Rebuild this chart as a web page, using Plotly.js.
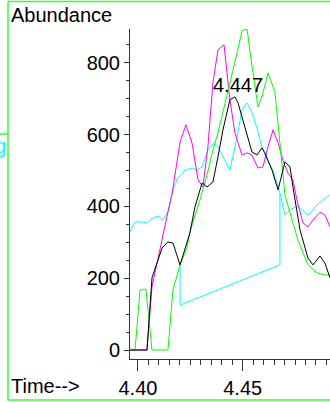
<!DOCTYPE html>
<html>
<head>
<meta charset="utf-8">
<script src="https://cdn.plot.ly/plotly-3.0.1.min.js"></script>
<style>html,body{margin:0;padding:0;background:#fff;}#chart{width:330px;height:402px;}</style>
</head>
<body>
<div id="chart"></div>
<script>
// Black trace
const blackTime = [4.3962,4.4043,4.4067,4.4091,4.4115,4.4143,4.4167,4.4201,4.4224,4.4248,4.4272,4.4282,4.4306,4.4330,4.4358,4.4382,4.4406,4.4439,4.4463,4.4478,4.4511,4.4544,4.4568,4.4592,4.4606,4.4640,4.4669,4.4702,4.4726,4.4740,4.4774,4.4812,4.4836,4.4869,4.4893,4.4917];
const blackAbund = [0,0,201,245,284,301,298,237,279,326,398,418,465,454,468,538,613,697,705,688,621,552,543,563,549,501,446,524,510,454,334,256,237,262,242,201];
// Green trace
const greenTime = [4.3962,4.3986,4.4010,4.4038,4.4067,4.4143,4.4167,4.4201,4.4234,4.4248,4.4296,4.4330,4.4358,4.4382,4.4406,4.4430,4.4463,4.4497,4.4521,4.4544,4.4573,4.4592,4.4621,4.4654,4.4678,4.4702,4.4726,4.4764,4.4812,4.4855,4.4893,4.4917];
const greenAbund = [0,0,167,170,0,0,167,237,284,329,418,488,557,605,663,719,802,889,894,794,677,705,772,719,585,432,382,306,237,215,209,209];
// Magenta trace
const magentaTime = [4.3962,4.4043,4.4067,4.4091,4.4115,4.4143,4.4162,4.4182,4.4201,4.4229,4.4258,4.4287,4.4310,4.4334,4.4358,4.4382,4.4411,4.4439,4.4463,4.4497,4.4521,4.4544,4.4573,4.4597,4.4621,4.4645,4.4669,4.4692,4.4716,4.4740,4.4759,4.4788,4.4812,4.4836,4.4869,4.4893,4.4917];
const magentaAbund = [0,0,176,245,306,384,432,501,579,627,577,474,454,566,744,836,850,697,605,543,549,543,507,510,566,613,577,529,493,474,418,354,343,362,384,376,343];
// Cyan trace
const cyanTime = [4.3962,4.3986,4.4010,4.4043,4.4072,4.4096,4.4119,4.4143,4.4167,4.4191,4.4224,4.4258,4.4282,4.4306,4.4334,4.4363,4.4382,4.4415,4.4439,4.4473,4.4497,4.4521,4.4544,4.4568,4.4592,4.4616,4.4645,4.4669,4.4678,4.4702,4.4726,4.4759,4.4812,4.4855,4.4883,4.4917];
const cyanAbund = [329,357,357,354,368,373,362,384,446,479,501,507,501,510,557,577,566,529,501,593,669,688,663,619,566,529,501,454,437,376,390,401,376,404,418,432];
// Cyan integration baseline
const baseTime = [4.4201,4.4201,4.4678,4.4678];
const baseAbund = [237,125,237,437];
// Peak label
const peakLabel = "4.447";
const peakLabelTime = 4.4478;
const peakLabelAbund = 738;
// Ticks
const yTickVals = [0,200,400,600,800];
const xTickVals = [4.40,4.45];
const xTickText = ["4.40","4.45"];

const FONT = "Liberation Sans, Arial, sans-serif";
const px = x => (x - 130) / 200;
const py = y => (359 - y) / 330;

const traces = [
  {x: cyanTime, y: cyanAbund, mode: 'lines', line: {color: '#00ffff', width: 1}},
  {x: baseTime, y: baseAbund, mode: 'lines', line: {color: '#00ffff', width: 1}},
  {x: magentaTime, y: magentaAbund, mode: 'lines', line: {color: '#ff00ff', width: 1}},
  {x: greenTime, y: greenAbund, mode: 'lines', line: {color: '#00ff00', width: 1}},
  {x: blackTime, y: blackAbund, mode: 'lines', line: {color: '#000000', width: 1}}
];

const layout = {
  width: 330, height: 402,
  margin: {l: 130, r: 0, t: 29, b: 43, pad: 0},
  paper_bgcolor: '#ffffff', plot_bgcolor: '#ffffff',
  showlegend: false,
  font: {family: FONT, size: 20, color: '#000'},
  xaxis: {
    range: [4.3962, 4.4917], showgrid: false, zeroline: false,
    showline: true, linecolor: '#333', linewidth: 1,
    tickmode: 'array', tickvals: xTickVals, ticktext: xTickText,
    ticks: 'outside', ticklen: 11, tickcolor: '#333', tickwidth: 1,
    tickfont: {family: FONT, size: 20, color: '#000'},
    minor: {dtick: 0.005, tick0: 4.40, ticks: 'outside', ticklen: 5, tickcolor: '#333', showgrid: false}
  },
  yaxis: {
    range: [-25, 894], showgrid: false, zeroline: false,
    showline: true, linecolor: '#333', linewidth: 1,
    tickmode: 'array', tickvals: yTickVals,
    ticks: 'outside', ticklen: 5, tickcolor: '#333', tickwidth: 1,
    tickfont: {family: FONT, size: 20, color: '#000'},
    minor: {dtick: 50, tick0: 0, ticks: 'outside', ticklen: 3, tickcolor: '#333', showgrid: false}
  },
  shapes: [
    {type: 'line', xref: 'paper', yref: 'paper', x0: px(8), x1: px(8), y0: py(1.5), y1: py(400), line: {color: '#33ff33', width: 1.5}},
    {type: 'line', xref: 'paper', yref: 'paper', x0: px(8), x1: px(340), y0: py(1.5), y1: py(1.5), line: {color: '#33ff33', width: 1.5}},
    {type: 'line', xref: 'paper', yref: 'paper', x0: px(8), x1: px(340), y0: py(400), y1: py(400), line: {color: '#33ff33', width: 1.5}},
    {type: 'line', xref: 'paper', yref: 'paper', x0: px(0), x1: px(8), y0: py(134), y1: py(134), line: {color: '#33ff33', width: 1.5}}
  ],
  annotations: [
    {text: 'Abundance', xref: 'paper', yref: 'paper', x: px(9), y: py(15), xanchor: 'left', yanchor: 'middle', showarrow: false, font: {family: FONT, size: 20, color: '#000'}},
    {text: 'Time-->', xref: 'paper', yref: 'paper', x: px(9), y: py(385.5), xanchor: 'left', yanchor: 'middle', showarrow: false, font: {family: FONT, size: 20, color: '#000'}},
    {text: 'g', xref: 'paper', yref: 'paper', x: px(8), y: py(146), xanchor: 'right', yanchor: 'middle', showarrow: false, font: {family: FONT, size: 20, color: '#00ffff'}},
    {text: peakLabel, x: peakLabelTime, y: peakLabelAbund, xanchor: 'center', yanchor: 'middle', showarrow: false, font: {family: FONT, size: 20, color: '#000'}}
  ]
};

Plotly.newPlot('chart', traces, layout, {displayModeBar: false, staticPlot: true});
</script>
</body>
</html>
